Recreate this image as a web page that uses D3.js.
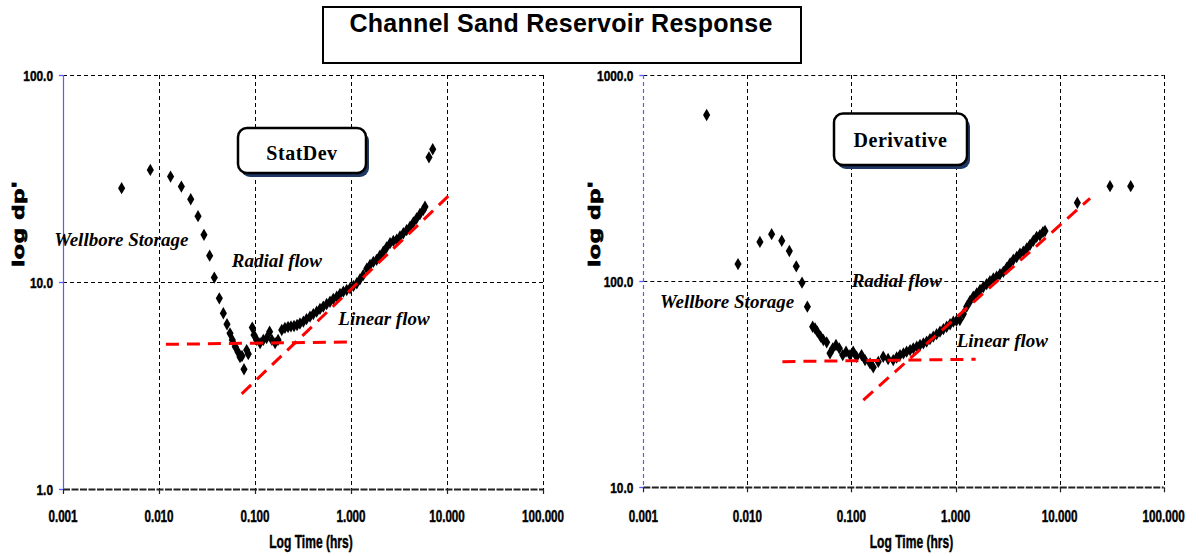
<!DOCTYPE html>
<html>
<head>
<meta charset="utf-8">
<script src="https://cdn.jsdelivr.net/npm/d3@7"></script>
<style>
  body { margin: 0; background: #fff; }
  svg { display: block; }
</style>
</head>
<body>
<svg id="chart" width="1202" height="556"></svg>
<script>
// ---- data ----
const xTicks = [0.001, 0.01, 0.1, 1, 10, 100];
const statTicks = [1, 10, 100];
const derivTicks = [10, 100, 1000];

// StatDev series (hrs, dp')
const statTime = [0.00408,0.00812,0.0132,0.0171,0.0214,0.0255,0.0294,0.0337,0.0377,0.0425,0.0468,0.0511,0.0549,0.058,0.0623,0.0665,0.0698,0.0732,0.0768,0.0819,0.0851,0.0937,0.0977,0.104,0.113,0.122,0.132,0.142,0.15,0.162,0.174,0.19,0.205,0.221,0.237,0.255,0.274,0.294,0.319,0.344,0.374,0.405,0.439,0.475,0.514,0.558,0.604,0.654,0.71,0.768,0.832,0.902,0.977,1.06,1.15,1.24,1.34,1.46,1.58,1.71,1.85,2.0,2.17,2.35,2.55,2.76,2.99,3.24,3.51,3.8,4.12,4.46,4.83,5.23,5.66,5.9,6.49,7.1];
const statDp = [28.4,34.8,32.3,28.9,25.1,20.8,16.9,13.4,10.5,8.34,7.06,6.25,5.65,5.25,4.87,4.59,4.34,4.39,3.79,4.69,4.49,6.02,5.55,5.25,5.07,5.25,5.36,5.75,5.25,5.07,5.25,5.86,6.0,6.06,6.1,6.13,6.2,6.3,6.43,6.62,6.8,7.0,7.19,7.41,7.6,7.83,8.03,8.28,8.49,8.75,8.98,9.15,9.33,9.57,9.86,10.3,10.8,11.6,12.1,12.5,12.8,13.4,14.0,14.7,15.4,15.8,16.0,16.6,17.2,17.8,18.5,19.4,20.3,21.3,22.3,23.1,40.0,43.8];
const statRadial = [[0.0118, 5.0], [0.98, 5.13]];
const statLinear = [[0.0727, 2.88], [11.2, 27.0]];

// Derivative series (hrs, dp')
const derivTime = [0.00406,0.00813,0.0132,0.0171,0.0214,0.0253,0.0295,0.0335,0.0377,0.0424,0.0447,0.047,0.0506,0.0537,0.0578,0.0622,0.0661,0.071,0.0764,0.0824,0.0887,0.0969,0.104,0.112,0.125,0.135,0.151,0.162,0.181,0.202,0.225,0.252,0.272,0.293,0.316,0.339,0.366,0.393,0.424,0.456,0.491,0.528,0.568,0.611,0.658,0.709,0.764,0.822,0.886,0.952,1.02,1.1,1.19,1.28,1.38,1.48,1.6,1.72,1.85,1.99,2.14,2.31,2.48,2.67,2.88,3.1,3.34,3.59,3.87,4.16,4.48,4.83,5.19,5.59,6.02,6.47,6.92,7.24,14.8,30.5,48.2];
const derivDp = [640,121,155,169,157,140,118,98.3,75.2,60.1,59.0,56.9,53.8,51.8,50.5,44.7,47.2,49.0,47.2,43.8,45.5,43.8,45.5,43.0,43.8,41.4,39.9,38.2,40.6,43.0,41.9,41.4,42.6,43.8,44.6,45.5,46.3,47.2,48.1,49.0,49.9,50.9,52.3,53.8,55.3,56.9,58.5,60.1,61.8,63.6,64.2,64.8,69.3,75.2,80.2,84.1,87.3,90.6,93.7,96.8,100,103,105,108,111,116,122,127,131,136,139,144,150,157,164,167,173,175,240,289,289];
const derivRadial = [[0.0217, 40.7], [1.56, 41.8]];
const derivLinear = [[0.13, 26.5], [19.6, 252]];

const svg = d3.select("#chart");
const sansBold = "'Liberation Sans', Arial, sans-serif";
const serif = "'Liberation Serif', 'Times New Roman', serif";
const crisp = v => Math.round(v) + 0.5;

// title box
svg.append("rect")
    .attr("x", 323).attr("y", 7).attr("width", 478).attr("height", 56)
    .attr("fill", "#fff").attr("stroke", "#000").attr("stroke-width", 2);
svg.append("text")
    .attr("x", 561).attr("y", 32)
    .attr("text-anchor", "middle")
    .style("font-family", sansBold).style("font-weight", "bold").style("font-size", "25px")
    .style("letter-spacing", "0.25px")
    .text("Channel Sand Reservoir Response");

// squeezed bold text, the picture's tick fonts are very condensed
function squeezed(g, x, y, str, size, sx, anchor) {
    return g.append("text")
        .attr("transform", `translate(${x},${y}) scale(${sx},1)`)
        .attr("text-anchor", anchor)
        .style("font-family", sansBold).style("font-weight", "bold")
        .style("font-size", size + "px")
        .attr("stroke", "#000").attr("stroke-width", 0.45)
        .text(str);
}

function panel(cfg) {
    const g = svg.append("g");
    const x = d3.scaleLog().domain([0.001, 100]).range(cfg.xRange);
    const y = d3.scaleLog().domain(d3.extent(cfg.yTicks)).range(cfg.yRange);
    const [x0, x1] = cfg.xRange;
    const [yb, yt] = cfg.yRange;

    // grid
    g.selectAll(".vgrid").data(xTicks.slice(1)).enter().append("line")
        .attr("x1", d => crisp(x(d))).attr("x2", d => crisp(x(d)))
        .attr("y1", yt).attr("y2", yb)
        .attr("stroke", "#000").attr("stroke-width", 1).attr("stroke-dasharray", "4,3");
    g.selectAll(".hgrid").data(cfg.yTicks.slice(1)).enter().append("line")
        .attr("x1", x0).attr("x2", x1)
        .attr("y1", d => crisp(y(d))).attr("y2", d => crisp(y(d)))
        .attr("stroke", "#000").attr("stroke-width", 1).attr("stroke-dasharray", "4,3");

    // bottom axis
    g.append("line")
        .attr("x1", x0).attr("x2", x1).attr("y1", crisp(yb)).attr("y2", crisp(yb))
        .attr("stroke", "#222").attr("stroke-width", 2).attr("stroke-dasharray", "7,1.5");
    g.selectAll(".xtick").data(xTicks).enter().append("line")
        .attr("x1", d => crisp(x(d))).attr("x2", d => crisp(x(d)))
        .attr("y1", yb).attr("y2", yb + 5)
        .attr("stroke", "#222").attr("stroke-width", 1.2);

    // left axis (blue)
    g.append("line")
        .attr("x1", crisp(x0)).attr("x2", crisp(x0)).attr("y1", yt).attr("y2", yb)
        .attr("stroke", "#5a5aff").attr("stroke-width", 1.2)
        .attr("stroke-dasharray", cfg.leftDash);
    g.selectAll(".ytick").data(cfg.yTicks).enter().append("line")
        .attr("x1", x0 - 4).attr("x2", x0)
        .attr("y1", d => crisp(y(d))).attr("y2", d => crisp(y(d)))
        .attr("stroke", "#5a5aff").attr("stroke-width", 1.3);

    // tick labels
    xTicks.forEach(t => squeezed(g, x(t), 521.5, d3.format(".3f")(t), 16, 0.73, "middle"));
    cfg.yTicks.forEach(t => squeezed(g, x0 - 10, y(t) + 5.5, d3.format(".1f")(t), 15, 0.79, "end"));

    squeezed(g, (x0 + x1) / 2 + 8, 548, "Log Time (hrs)", 18, 0.67, "middle");

    g.append("text")
        .attr("transform", `translate(${cfg.yLabelX},224) rotate(-90) scale(1.55,1)`)
        .attr("text-anchor", "middle")
        .style("font-family", sansBold).style("font-weight", "bold").style("font-size", "16px")
        .style("letter-spacing", "0.5px")
        .attr("stroke", "#000").attr("stroke-width", 0.8)
        .text("log dp'");

    // points
    const diamond = d3.symbol().type(d3.symbolDiamond).size(44);
    g.selectAll(".pt").data(d3.zip(cfg.time, cfg.dp)).enter().append("path")
        .attr("d", diamond)
        .attr("transform", d => `translate(${x(d[0])},${y(d[1])})`)
        .attr("fill", "#000");

    // fitted lines
    const line = d3.line().x(d => x(d[0])).y(d => y(d[1]));
    [cfg.radial, cfg.linear].forEach(seg => {
        g.append("path")
            .attr("d", line(seg))
            .attr("fill", "none").attr("stroke", "#ff0000")
            .attr("stroke-width", 3).attr("stroke-dasharray", "13,8");
    });

    // name box
    const b = cfg.box;
    g.append("rect")
        .attr("x", b.x + 3).attr("y", b.y + 4).attr("width", b.w).attr("height", b.h)
        .attr("rx", 9).attr("fill", "#1f3864");
    g.append("rect")
        .attr("x", b.x).attr("y", b.y).attr("width", b.w).attr("height", b.h)
        .attr("rx", 9).attr("fill", "#fff").attr("stroke", "#000").attr("stroke-width", 2.5);
    g.append("text")
        .attr("x", b.x + b.w / 2).attr("y", b.base)
        .attr("text-anchor", "middle")
        .style("font-family", serif).style("font-weight", "bold").style("font-size", "20px")
        .style("letter-spacing", "0.5px")
        .text(cfg.name);

    // flow regime notes
    cfg.notes.forEach(n => {
        g.append("text")
            .attr("x", x(n.t)).attr("y", y(n.v))
            .style("font-family", serif).style("font-weight", "bold")
            .style("font-style", "italic").style("font-size", "19px")
            .text(n.text);
    });
}

panel({
    name: "StatDev",
    xRange: [63, 543], yRange: [489, 75],
    yTicks: statTicks, time: statTime, dp: statDp,
    radial: statRadial, linear: statLinear,
    leftDash: null, yLabelX: 23.5,
    box: { x: 238, y: 128, w: 128, h: 45, base: 160 },
    notes: [
        { text: "Wellbore Storage", t: 0.00081, v: 15.0 },
        { text: "Radial flow", t: 0.0572, v: 11.86 },
        { text: "Linear flow", t: 0.738, v: 6.2 }
    ]
});

panel({
    name: "Derivative",
    xRange: [643.3, 1163.7], yRange: [487.3, 75],
    yTicks: derivTicks, time: derivTime, dp: derivDp,
    radial: derivRadial, linear: derivLinear,
    leftDash: "4,3", yLabelX: 599.5,
    box: { x: 834, y: 113.5, w: 133, h: 51.5, base: 147 },
    notes: [
        { text: "Wellbore Storage", t: 0.001447, v: 73.8 },
        { text: "Radial flow", t: 0.1005, v: 94.0 },
        { text: "Linear flow", t: 1.026, v: 48.1 }
    ]
});
</script>
</body>
</html>
